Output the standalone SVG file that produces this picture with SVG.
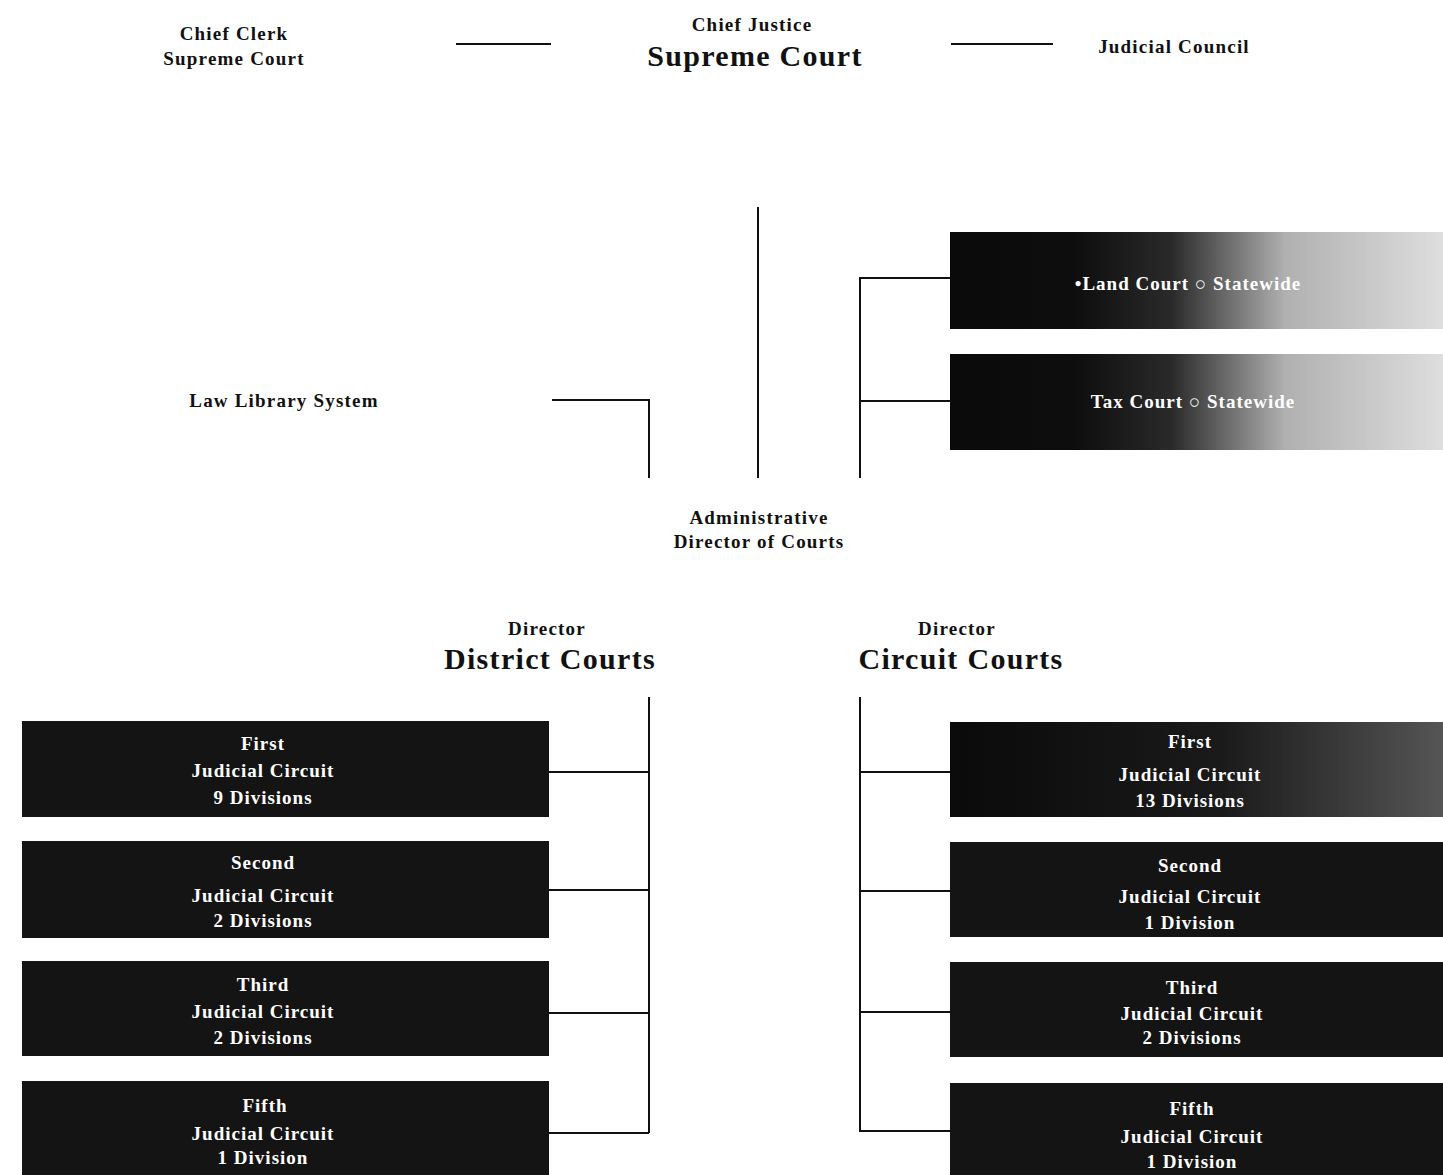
<svg xmlns="http://www.w3.org/2000/svg" width="1443" height="1175" viewBox="0 0 1443 1175">
<defs>
<linearGradient id="fade" x1="0" y1="0" x2="1" y2="0">
<stop offset="0" stop-color="#0a0a0a"/>
<stop offset="0.25" stop-color="#0d0d0d"/>
<stop offset="0.45" stop-color="#2a2a2a"/>
<stop offset="0.68" stop-color="#b0b0b0"/>
<stop offset="1" stop-color="#dedede"/>
</linearGradient>
<linearGradient id="fade2" x1="0" y1="0" x2="1" y2="0">
<stop offset="0" stop-color="#0a0a0a"/>
<stop offset="0.55" stop-color="#1a1a1a"/>
<stop offset="1" stop-color="#555"/>
</linearGradient>
</defs>
<style>
text{font-family:"Liberation Serif","Times New Roman",serif;font-weight:bold;text-anchor:middle;fill:#111}
.s{font-size:19px;letter-spacing:1.2px}
.b{font-size:30px;letter-spacing:1.3px}
.w{fill:#fff;font-size:19px;letter-spacing:1px}
.box{fill:#141414}
.ln{stroke:#111;stroke-width:2;fill:none}
</style>
<rect width="1443" height="1175" fill="#fff"/>
<g id="chief-clerk"><text class="s" x="234" y="40">Chief Clerk</text><text class="s" x="234" y="65">Supreme Court</text></g>
<g id="supreme-court"><text class="s" x="752" y="31">Chief Justice</text><text class="b" x="755" y="66">Supreme Court</text></g>
<g id="judicial-council"><text class="s" x="1174" y="53">Judicial Council</text></g>
<g id="law-library"><text class="s" x="284" y="407">Law Library System</text></g>
<g id="land-court"><rect x="950" y="232" width="493" height="97" fill="url(#fade)"/><text class="w" x="1188" y="290">•Land Court ○ Statewide</text></g>
<g id="tax-court"><rect x="950" y="354" width="493" height="96" fill="url(#fade)"/><text class="w" x="1193" y="408">Tax Court ○ Statewide</text></g>
<g id="admin-director"><text class="s" x="759" y="524">Administrative</text><text class="s" x="759" y="548">Director of Courts</text></g>
<g id="district-courts"><text class="s" x="547" y="635">Director</text><text class="b" x="550" y="669">District Courts</text></g>
<g id="circuit-courts"><text class="s" x="957" y="635">Director</text><text class="b" x="961" y="669">Circuit Courts</text></g>
<g id="district-first"><rect class="box" x="22" y="721" width="527" height="96"/><text class="w" x="263" y="750">First</text><text class="w" x="263" y="777">Judicial Circuit</text><text class="w" x="263" y="804">9 Divisions</text></g>
<g id="district-second"><rect class="box" x="22" y="841" width="527" height="97"/><text class="w" x="263" y="869">Second</text><text class="w" x="263" y="902">Judicial Circuit</text><text class="w" x="263" y="927">2 Divisions</text></g>
<g id="district-third"><rect class="box" x="22" y="961" width="527" height="95"/><text class="w" x="263" y="991">Third</text><text class="w" x="263" y="1018">Judicial Circuit</text><text class="w" x="263" y="1044">2 Divisions</text></g>
<g id="district-fifth"><rect class="box" x="22" y="1081" width="527" height="94"/><text class="w" x="265" y="1112">Fifth</text><text class="w" x="263" y="1140">Judicial Circuit</text><text class="w" x="263" y="1164">1 Division</text></g>
<g id="circuit-first"><rect x="950" y="722" width="493" height="95" fill="url(#fade2)"/><text class="w" x="1190" y="748">First</text><text class="w" x="1190" y="781">Judicial Circuit</text><text class="w" x="1190" y="807">13 Divisions</text></g>
<g id="circuit-second"><rect class="box" x="950" y="842" width="493" height="95"/><text class="w" x="1190" y="872">Second</text><text class="w" x="1190" y="903">Judicial Circuit</text><text class="w" x="1190" y="929">1 Division</text></g>
<g id="circuit-third"><rect class="box" x="950" y="962" width="493" height="95"/><text class="w" x="1192" y="994">Third</text><text class="w" x="1192" y="1020">Judicial Circuit</text><text class="w" x="1192" y="1044">2 Divisions</text></g>
<g id="circuit-fifth"><rect class="box" x="950" y="1083" width="493" height="92"/><text class="w" x="1192" y="1115">Fifth</text><text class="w" x="1192" y="1143">Judicial Circuit</text><text class="w" x="1192" y="1168">1 Division</text></g>
<g id="connectors">
<path class="ln" d="M456 44H551M951 44H1053"/>
<path class="ln" d="M758 207V478"/>
<path class="ln" d="M950 278H860V478M860 401H950"/>
<path class="ln" d="M552 400H649V478"/>
<path class="ln" d="M649 697V1133M549 772H649M549 890H649M549 1013H649M549 1133H649"/>
<path class="ln" d="M860 697V1132M860 772H950M860 891H950M860 1012H950M860 1131H950"/>
</g>
</svg>
